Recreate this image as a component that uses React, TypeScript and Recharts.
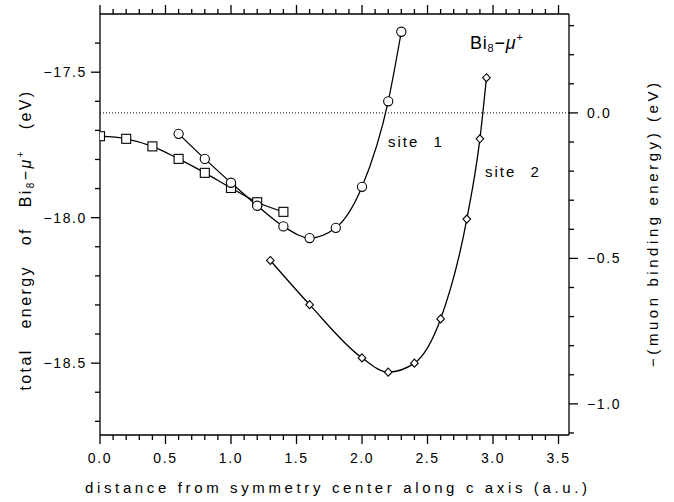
import React from "react";
import { LineChart, Line, XAxis, YAxis, ReferenceLine } from "recharts";

// site 1, path a (squares)
const sqX = [0.0, 0.2, 0.4, 0.6, 0.8, 1.0, 1.2, 1.4];
const sqY = [-17.72, -17.729, -17.755, -17.798, -17.846, -17.898, -17.947, -17.98];

// site 1, path b (circles)
const ciX = [0.6, 0.8, 1.0, 1.2, 1.4, 1.6, 1.8, 2.0, 2.2, 2.3];
const ciY = [-17.712, -17.798, -17.88, -17.959, -18.03, -18.07, -18.035, -17.894, -17.6, -17.361];

// site 2 (diamonds)
const diX = [1.3, 1.6, 2.0, 2.2, 2.4, 2.6, 2.8, 2.9, 2.95];
const diY = [-18.147, -18.299, -18.482, -18.531, -18.5, -18.348, -18.005, -17.729, -17.519];

const xTicks = [
  0, 0.1, 0.2, 0.3, 0.4, 0.5, 0.6, 0.7, 0.8, 0.9, 1.0, 1.1, 1.2, 1.3, 1.4, 1.5, 1.6, 1.7,
  1.8, 1.9, 2.0, 2.1, 2.2, 2.3, 2.4, 2.5, 2.6, 2.7, 2.8, 2.9, 3.0, 3.1, 3.2, 3.3, 3.4, 3.5,
];
const leftTicks = [
  -18.7, -18.6, -18.5, -18.4, -18.3, -18.2, -18.1, -18.0, -17.9, -17.8, -17.7, -17.6, -17.5, -17.4,
];
const rightTicks = [-1.1, -1.0, -0.9, -0.8, -0.7, -0.6, -0.5, -0.4, -0.3, -0.2, -0.1, 0.0, 0.1, 0.2, 0.3];

const xDomain = [0, 3.58];
const leftDomain = [-18.747, -17.3];
const rightDomain = [-1.107, 0.34];

const toRows = (xs: number[], ys: number[]) => xs.map((x, i) => ({ x, y: ys[i] }));
const squares = toRows(sqX, sqY);
const circles = toRows(ciX, ciY);
const diamonds = toRows(diX, diY);

const FONT = "'Liberation Sans', Arial, sans-serif";
const isMajor = (v: number) => Math.abs(v * 2 - Math.round(v * 2)) < 1e-6;
const fmt = (v: number) => (v < -1e-9 ? "\u2212" : "") + Math.abs(v).toFixed(1);

function makeTick(side: "bottom" | "top" | "left" | "right") {
  return (props: any) => {
    const { x, y, payload } = props;
    const v = payload.value as number;
    const major = isMajor(v);
    const len = major ? 9 : 5;
    const common = { stroke: "#000", strokeWidth: 1.3 };
    const txt = { fontSize: 14, fontFamily: FONT, letterSpacing: 1.6 };
    if (side === "bottom")
      return (
        <g>
          <line x1={x} x2={x} y1={y} y2={y + len} {...common} />
          {major && (
            <text x={x} y={y + 28} textAnchor="middle" {...txt}>
              {fmt(v)}
            </text>
          )}
        </g>
      );
    if (side === "top") return <line x1={x} x2={x} y1={y} y2={y - len} {...common} />;
    if (side === "left")
      return (
        <g>
          <line x1={x} x2={x - len} y1={y} y2={y} {...common} />
          {major && (
            <text x={x - 13} y={y + 5} textAnchor="end" {...txt}>
              {fmt(v)}
            </text>
          )}
        </g>
      );
    return (
      <g>
        <line x1={x} x2={x + len} y1={y} y2={y} {...common} />
        {major && (
          <text x={x + 18} y={y + 5} textAnchor="start" {...txt}>
            {fmt(v)}
          </text>
        )}
      </g>
    );
  };
}

const SquareDot = (p: any) => (
  <rect key={p.index} x={p.cx - 4.5} y={p.cy - 4.5} width={9} height={9} fill="#fff" stroke="#000" strokeWidth={1.1} />
);
const CircleDot = (p: any) => (
  <circle key={p.index} cx={p.cx} cy={p.cy} r={4.6} fill="#fff" stroke="#000" strokeWidth={1.1} />
);
const DiamondDot = (p: any) => (
  <path
    key={p.index}
    d={`M${p.cx},${p.cy - 4} L${p.cx + 3.8},${p.cy} L${p.cx},${p.cy + 4} L${p.cx - 3.8},${p.cy} Z`}
    fill="#fff"
    stroke="#000"
    strokeWidth={1.1}
  />
);

export default function App() {
  return (
    <div style={{ position: "absolute", left: 0, top: 0, width: 674, height: 502, background: "#fff" }}>
      <LineChart width={674} height={502} margin={{ top: 4, right: 45, bottom: 37, left: 40 }}>
        <XAxis
          xAxisId="bottom"
          type="number"
          dataKey="x"
          domain={xDomain}
          ticks={xTicks}
          interval={0}
          allowDataOverflow
          height={30}
          tickSize={0}
          tickMargin={0}
          tickLine={false}
          axisLine={{ stroke: "#000", strokeWidth: 1.3 }}
          tick={makeTick("bottom")}
        />
        <XAxis
          xAxisId="top"
          orientation="top"
          type="number"
          dataKey="x"
          domain={xDomain}
          ticks={xTicks}
          interval={0}
          allowDataOverflow
          height={10}
          tickSize={0}
          tickMargin={0}
          tickLine={false}
          axisLine={{ stroke: "#000", strokeWidth: 1.3 }}
          tick={makeTick("top")}
        />
        <YAxis
          yAxisId="left"
          type="number"
          domain={leftDomain}
          ticks={leftTicks}
          interval={0}
          allowDataOverflow
          width={60}
          tickSize={0}
          tickMargin={0}
          tickLine={false}
          axisLine={{ stroke: "#000", strokeWidth: 1.3 }}
          tick={makeTick("left")}
        />
        <YAxis
          yAxisId="right"
          orientation="right"
          type="number"
          domain={rightDomain}
          ticks={rightTicks}
          interval={0}
          allowDataOverflow
          width={60}
          tickSize={0}
          tickMargin={0}
          tickLine={false}
          axisLine={{ stroke: "#000", strokeWidth: 1.3 }}
          tick={makeTick("right")}
        />
        <ReferenceLine
          xAxisId="bottom"
          yAxisId="right"
          y={0}
          stroke="#000"
          strokeWidth={1}
          strokeDasharray="1 2"
        />
        <Line
          xAxisId="bottom"
          yAxisId="left"
          data={squares}
          dataKey="y"
          type="monotone"
          stroke="#000"
          strokeWidth={1.3}
          dot={SquareDot}
          activeDot={false}
          isAnimationActive={false}
        />
        <Line
          xAxisId="bottom"
          yAxisId="left"
          data={circles}
          dataKey="y"
          type="monotone"
          stroke="#000"
          strokeWidth={1.3}
          dot={CircleDot}
          activeDot={false}
          isAnimationActive={false}
        />
        <Line
          xAxisId="bottom"
          yAxisId="left"
          data={diamonds}
          dataKey="y"
          type="monotone"
          stroke="#000"
          strokeWidth={1.3}
          dot={DiamondDot}
          activeDot={false}
          isAnimationActive={false}
        />
      </LineChart>
      <svg
        width={674}
        height={502}
        style={{ position: "absolute", left: 0, top: 0, pointerEvents: "none" }}
        fontFamily={FONT}
      >
        <text x={470} y={49} fontSize={18} letterSpacing={0.8}>
          Bi<tspan fontSize={11} dy={3}>8</tspan>
          <tspan dy={-3}>{"\u2212"}</tspan>
          <tspan fontStyle="italic">{"\u03bc"}</tspan>
          <tspan fontSize={11} dy={-8}>+</tspan>
        </text>
        <text x={388} y={147} fontSize={15} letterSpacing={2} wordSpacing={8}>
          site 1
        </text>
        <text x={485} y={177} fontSize={15} letterSpacing={2} wordSpacing={8}>
          site 2
        </text>
        <text x={336} y={493} fontSize={15} textAnchor="middle" textLength={502} lengthAdjust="spacing">
          distance from symmetry center along c axis (a.u.)
        </text>
        <text
          transform="translate(31,240) rotate(-90)"
          fontSize={16}
          textAnchor="middle"
          letterSpacing={2.4}
          wordSpacing={13}
        >
          total energy of Bi<tspan fontSize={10} dy={3}>8</tspan>
          <tspan dy={-3}>{"\u2212"}</tspan>
          <tspan fontStyle="italic">{"\u03bc"}</tspan>
          <tspan fontSize={10} dy={-7}>+</tspan>
          <tspan dy={7}> (eV)</tspan>
        </text>
        <text
          transform="translate(658,225) rotate(-90)"
          fontSize={15}
          textAnchor="middle"
          textLength={284}
          lengthAdjust="spacing"
        >
          {"\u2212(muon binding energy) (eV)"}
        </text>
      </svg>
    </div>
  );
}
